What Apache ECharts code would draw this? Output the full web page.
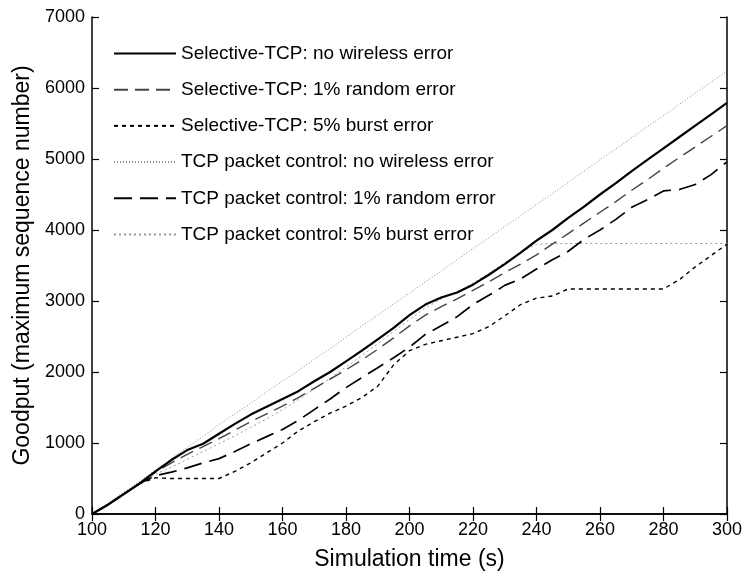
<!DOCTYPE html>
<html>
<head>
<meta charset="utf-8">
<script src="https://cdn.jsdelivr.net/npm/echarts@6/dist/echarts.min.js"></script>
<style>html,body{margin:0;padding:0;background:#fff}#c{width:745px;height:576px}</style>
</head>
<body>
<div id="c"></div>
<script>
// Simulation time (s), sampled every 5 s
const timeS = [100,105,110,115,120,125,130,135,140,145,150,155,160,165,170,175,180,185,190,195,200,205,210,215,220,225,230,235,240,245,250,255,260,265,270,275,280,285,290,295,300];

const seriesNames = [
  'Selective-TCP: no wireless error',
  'Selective-TCP: 1% random error',
  'Selective-TCP: 5% burst error',
  'TCP packet control: no wireless error',
  'TCP packet control: 1% random error',
  'TCP packet control: 5% burst error'
];

const selNoErr = [0,130,280,430,600,760,900,990,1130,1270,1400,1510,1620,1730,1870,2000,2150,2300,2460,2620,2800,2950,3050,3120,3230,3370,3520,3680,3850,4000,4170,4330,4500,4660,4830,4990,5150,5310,5470,5630,5790];
const sel1Rand = [0,130,280,430,590,720,840,950,1060,1180,1300,1410,1520,1640,1770,1900,2030,2170,2320,2480,2650,2800,2920,3030,3150,3270,3400,3520,3650,3800,3950,4100,4250,4400,4560,4710,4870,5020,5170,5320,5470];
const sel5Burst = [0,130,280,430,510,500,500,500,500,600,720,860,1000,1170,1300,1420,1520,1640,1800,2100,2300,2390,2440,2490,2540,2640,2790,2950,3040,3070,3170,3170,3170,3170,3170,3170,3170,3300,3480,3640,3800];
const tcpNoErr = [0,150,310,460,620,780,940,1090,1260,1410,1560,1720,1870,2020,2180,2330,2490,2650,2800,2960,3110,3270,3420,3580,3740,3890,4050,4200,4360,4510,4670,4830,4990,5140,5300,5460,5610,5770,5930,6080,6240];
const tcp1Rand = [0,130,280,430,540,590,650,720,780,880,990,1090,1190,1320,1470,1620,1780,1920,2060,2200,2350,2530,2650,2780,2950,3080,3220,3310,3450,3580,3700,3870,4000,4150,4320,4430,4550,4570,4640,4780,4960];
const tcp5Burst = [0,130,280,430,560,660,770,880,990,1100,1220,1340,1470,1610,1760,1910,2070,2230,2400,2570,2740,2900,3030,3130,3250,3390,3540,3680,3800,3810,3810,3810,3810,3810,3810,3810,3810,3810,3810,3810,3810];

const xTicks = {min:100, max:300, step:20};
const yTicks = {min:0, max:7000, step:1000};

const allValues = [selNoErr, sel1Rand, sel5Burst, tcpNoErr, tcp1Rand, tcp5Burst];
const styles = [
  {color:'#000', width:2.2, type:'solid'},
  {color:'#444', width:1.4, type:[14,7]},
  {color:'#000', width:1.4, type:[4,4]},
  {color:'#888', width:1, type:[1,2]},
  {color:'#000', width:1.7, type:[18,8]},
  {color:'#999', width:1, type:[2,3]}
];

const font = 'Liberation Sans, Arial, sans-serif';
const chart = echarts.init(document.getElementById('c'), null, {renderer:'canvas'});

const series = allValues.map((vals, i) => ({
  name: seriesNames[i],
  type: 'line',
  symbol: 'none',
  showSymbol: false,
  animation: false,
  data: timeS.map((t, j) => [t, vals[j]]),
  lineStyle: {color: styles[i].color, width: styles[i].width, type: styles[i].type},
  itemStyle: {color: styles[i].color},
  z: 10 - i
}));

const boxAxis = {
  axisLine: {show:true, lineStyle:{color:'#000', width:1.5}},
  axisTick: {show:true, inside:true, length:7, lineStyle:{color:'#000', width:1.2}},
  splitLine: {show:false}
};

chart.setOption({
  backgroundColor: '#fff',
  animation: false,
  grid: {left:92, right:18, top:17, bottom:61, containLabel:false},
  legend: {
    orient: 'vertical', left: 113, top: 44, padding: 0,
    itemWidth: 62, itemHeight: 14, itemGap: 17.2,
    itemStyle: {opacity: 0},
    textStyle: {fontSize:19, color:'#000', fontFamily:font},
    data: seriesNames
  },
  xAxis: [
    Object.assign({
      type:'value', min:xTicks.min, max:xTicks.max, interval:xTicks.step,
      name:'Simulation time (s)', nameLocation:'middle', nameGap:34,
      nameTextStyle:{fontSize:23, color:'#000', fontFamily:font},
      axisLabel:{fontSize:18, color:'#000', fontFamily:font, margin:7}
    }, boxAxis),
    Object.assign({
      type:'value', position:'top', min:xTicks.min, max:xTicks.max, interval:xTicks.step,
      axisLabel:{show:false}
    }, boxAxis)
  ],
  yAxis: [
    Object.assign({
      type:'value', min:yTicks.min, max:yTicks.max, interval:yTicks.step,
      name:'Goodput (maximum sequence number)', nameLocation:'middle', nameGap:56,
      nameTextStyle:{fontSize:23, color:'#000', fontFamily:font},
      axisLabel:{fontSize:18, color:'#000', fontFamily:font, margin:7, formatter: v => String(v)}
    }, boxAxis),
    Object.assign({
      type:'value', position:'right', min:yTicks.min, max:yTicks.max, interval:yTicks.step,
      axisLabel:{show:false}
    }, boxAxis)
  ],
  series: series
});
</script>
</body>
</html>
